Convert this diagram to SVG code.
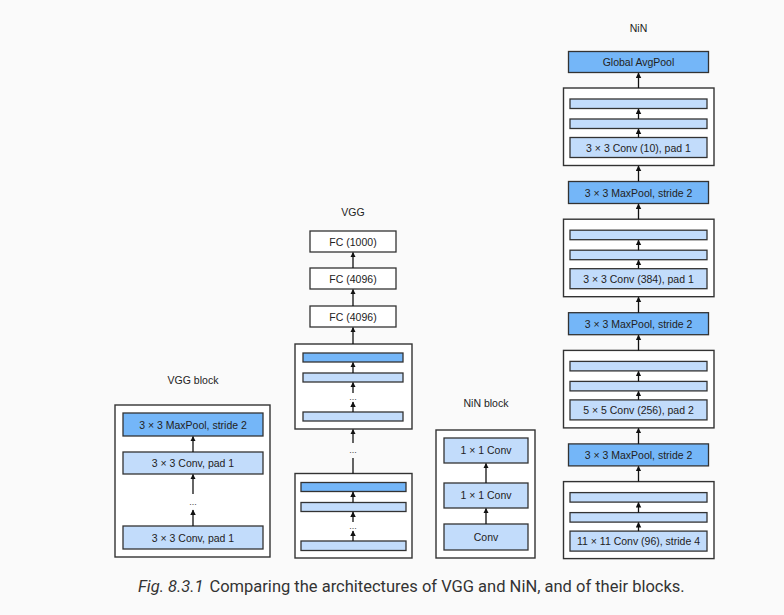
<svg xmlns="http://www.w3.org/2000/svg" width="784" height="615" viewBox="0 0 784 615">
  <defs>
    <marker id="ah" viewBox="0 0 10 10" refX="9" refY="5" markerWidth="5.5" markerHeight="6" markerUnits="userSpaceOnUse" orient="auto">
      <path d="M0,0 L10,5 L0,10 z" fill="#111"/>
    </marker>
    <style>
      .bg { fill: #fafafa; }
      .frame { fill: #ffffff; stroke: #333; stroke-width: 1.4; }
      .fc { fill: #ffffff; stroke: #333; stroke-width: 1.3; }
      .dark { fill: #74b6f8; stroke: #333; stroke-width: 1.3; }
      .light { fill: #c2dcfb; stroke: #333; stroke-width: 1.3; }
      .lbl { font-family: "Liberation Sans", Arial, sans-serif; font-size: 10.5px; fill: #222; text-anchor: middle; }
      .dots { font-family: "Liberation Sans", Arial, sans-serif; font-size: 9px; fill: #444; text-anchor: middle; }
      .arr { stroke: #111; stroke-width: 1.3; fill: none; marker-end: url(#ah); }
      .ln { stroke: #111; stroke-width: 1.3; fill: none; }
      .cap { font-family: Roboto, "Liberation Sans", sans-serif; font-size: 16.5px; fill: #333; }
    </style>
  </defs>

  <rect class="bg" x="0" y="0" width="784" height="615"/>

  <!-- VGG block -->
  <g id="vgg-block">
    <text class="lbl" x="193" y="384">VGG block</text>
    <rect class="frame" x="115" y="405" width="155" height="152"/>
    <rect class="dark" x="123" y="413" width="140" height="23"/>
    <text class="lbl" x="193" y="428.5">3 × 3 MaxPool, stride 2</text>
    <rect class="light" x="123" y="452" width="140" height="22"/>
    <text class="lbl" x="193" y="467">3 × 3 Conv, pad 1</text>
    <text class="dots" x="193" y="505">...</text>
    <rect class="light" x="123" y="526" width="140" height="23"/>
    <text class="lbl" x="193" y="541.5">3 × 3 Conv, pad 1</text>
  </g>

  <!-- VGG network -->
  <g id="vgg">
    <text class="lbl" x="353" y="216">VGG</text>
    <g id="vgg-fc3">
      <rect class="fc" x="310" y="231" width="86" height="21"/>
      <text class="lbl" x="353" y="245.5">FC (1000)</text>
    </g>
    <g id="vgg-fc2">
      <rect class="fc" x="310" y="268" width="86" height="21"/>
      <text class="lbl" x="353" y="282.5">FC (4096)</text>
    </g>
    <g id="vgg-fc1">
      <rect class="fc" x="310" y="306" width="86" height="21"/>
      <text class="lbl" x="353" y="320.5">FC (4096)</text>
    </g>
    <g id="vgg-block-n">
      <rect class="frame" x="295" y="344" width="117" height="85"/>
      <rect class="dark" x="303" y="353" width="100" height="9"/>
      <rect class="light" x="303" y="373" width="100" height="9"/>
      <text class="dots" x="353" y="400">...</text>
      <rect class="light" x="303" y="412" width="100" height="9"/>
    </g>
    <text class="dots" x="353" y="453">...</text>
    <g id="vgg-block-1">
      <rect class="frame" x="295" y="473.5" width="117" height="84.5"/>
      <rect class="dark" x="301" y="482.5" width="105" height="9"/>
      <rect class="light" x="301" y="502.5" width="105" height="9"/>
      <text class="dots" x="353" y="529">...</text>
      <rect class="light" x="301" y="541" width="105" height="9.5"/>
    </g>
  </g>

  <!-- NiN block -->
  <g id="nin-block">
    <text class="lbl" x="486" y="407">NiN block</text>
    <rect class="frame" x="436" y="430" width="99" height="128"/>
    <rect class="light" x="444" y="438" width="84" height="25"/>
    <text class="lbl" x="486" y="454">1 × 1 Conv</text>
    <rect class="light" x="444" y="483" width="84" height="25"/>
    <text class="lbl" x="486" y="499">1 × 1 Conv</text>
    <rect class="light" x="444" y="524" width="84" height="26"/>
    <text class="lbl" x="486" y="540.5">Conv</text>
  </g>

  <!-- NiN network -->
  <g id="nin">
    <text class="lbl" x="638.5" y="32">NiN</text>
    <g id="nin-avgpool">
      <rect class="dark" x="568.5" y="51.5" width="140" height="21"/>
      <text class="lbl" x="638.5" y="66">Global AvgPool</text>
    </g>
    <g id="nin-block-4">
      <rect class="frame" x="563.5" y="88" width="150.5" height="77.5"/>
      <rect class="light" x="570" y="99" width="137" height="9.5"/>
      <rect class="light" x="570" y="119" width="137" height="9.5"/>
      <rect class="light" x="570" y="137.5" width="137" height="20"/>
      <text class="lbl" x="638.5" y="151.5">3 × 3 Conv (10), pad 1</text>
    </g>
    <g id="nin-pool-3">
      <rect class="dark" x="568.5" y="181.5" width="140" height="22"/>
      <text class="lbl" x="638.5" y="196.5">3 × 3 MaxPool, stride 2</text>
    </g>
    <g id="nin-block-3">
      <rect class="frame" x="563.5" y="219.2" width="150.5" height="77.5"/>
      <rect class="light" x="570" y="230.2" width="137" height="9.5"/>
      <rect class="light" x="570" y="250.2" width="137" height="9.5"/>
      <rect class="light" x="570" y="268.7" width="137" height="20"/>
      <text class="lbl" x="638.5" y="282.7">3 × 3 Conv (384), pad 1</text>
    </g>
    <g id="nin-pool-2">
      <rect class="dark" x="568.5" y="312.7" width="140" height="22"/>
      <text class="lbl" x="638.5" y="327.7">3 × 3 MaxPool, stride 2</text>
    </g>
    <g id="nin-block-2">
      <rect class="frame" x="563.5" y="350.4" width="150.5" height="77.5"/>
      <rect class="light" x="570" y="361.4" width="137" height="9.5"/>
      <rect class="light" x="570" y="381.4" width="137" height="9.5"/>
      <rect class="light" x="570" y="399.9" width="137" height="20"/>
      <text class="lbl" x="638.5" y="413.9">5 × 5 Conv (256), pad 2</text>
    </g>
    <g id="nin-pool-1">
      <rect class="dark" x="568.5" y="443.9" width="140" height="22"/>
      <text class="lbl" x="638.5" y="458.9">3 × 3 MaxPool, stride 2</text>
    </g>
    <g id="nin-block-1">
      <rect class="frame" x="563.5" y="481.6" width="150.5" height="77"/>
      <rect class="light" x="570" y="492.6" width="137" height="9.5"/>
      <rect class="light" x="570" y="512.6" width="137" height="9.5"/>
      <rect class="light" x="570" y="531.1" width="137" height="20"/>
      <text class="lbl" x="638.5" y="545.1">11 × 11 Conv (96), stride 4</text>
    </g>
  </g>

  <!-- connectors -->
  <g id="connectors">
    <!-- VGG block -->
    <line class="arr" x1="193" y1="452" x2="193" y2="436.5"/>
    <line class="arr" x1="193" y1="494" x2="193" y2="474.5"/>
    <line class="arr" x1="193" y1="526" x2="193" y2="510"/>
    <!-- VGG network -->
    <line class="arr" x1="353" y1="268" x2="353" y2="252.5"/>
    <line class="arr" x1="353" y1="306" x2="353" y2="289.5"/>
    <line class="arr" x1="353" y1="344" x2="353" y2="327.5"/>
    <line class="arr" x1="353" y1="373" x2="353" y2="362.5"/>
    <line class="arr" x1="353" y1="393" x2="353" y2="382.5"/>
    <line class="arr" x1="353" y1="412" x2="353" y2="402"/>
    <line class="arr" x1="353" y1="443" x2="353" y2="429.5"/>
    <line class="ln" x1="353" y1="473.5" x2="353" y2="458"/>
    <line class="arr" x1="353" y1="502.5" x2="353" y2="492"/>
    <line class="arr" x1="353" y1="522" x2="353" y2="512"/>
    <line class="arr" x1="353" y1="541" x2="353" y2="531"/>
    <!-- NiN block -->
    <line class="arr" x1="486" y1="483" x2="486" y2="463.5"/>
    <line class="arr" x1="486" y1="524" x2="486" y2="508.5"/>
    <!-- NiN network -->
    <line class="arr" x1="638.5" y1="88" x2="638.5" y2="73"/>
    <line class="arr" x1="638.5" y1="119" x2="638.5" y2="109"/>
    <line class="arr" x1="638.5" y1="137.5" x2="638.5" y2="129"/>
    <line class="arr" x1="638.5" y1="181.5" x2="638.5" y2="166"/>
    <line class="arr" x1="638.5" y1="219.2" x2="638.5" y2="204"/>
    <line class="arr" x1="638.5" y1="250.2" x2="638.5" y2="240.2"/>
    <line class="arr" x1="638.5" y1="268.7" x2="638.5" y2="260.2"/>
    <line class="arr" x1="638.5" y1="312.7" x2="638.5" y2="297.2"/>
    <line class="arr" x1="638.5" y1="350.4" x2="638.5" y2="335.2"/>
    <line class="arr" x1="638.5" y1="381.4" x2="638.5" y2="371.4"/>
    <line class="arr" x1="638.5" y1="399.9" x2="638.5" y2="391.4"/>
    <line class="arr" x1="638.5" y1="443.9" x2="638.5" y2="428.4"/>
    <line class="arr" x1="638.5" y1="481.6" x2="638.5" y2="466.4"/>
    <line class="arr" x1="638.5" y1="512.6" x2="638.5" y2="502.6"/>
    <line class="arr" x1="638.5" y1="531.1" x2="638.5" y2="522.6"/>
  </g>

  <!-- caption -->
  <text class="cap" x="138" y="592"><tspan font-style="italic">Fig. 8.3.1</tspan><tspan dx="6">Comparing the architectures of VGG and NiN, and of their blocks.</tspan></text>
</svg>
